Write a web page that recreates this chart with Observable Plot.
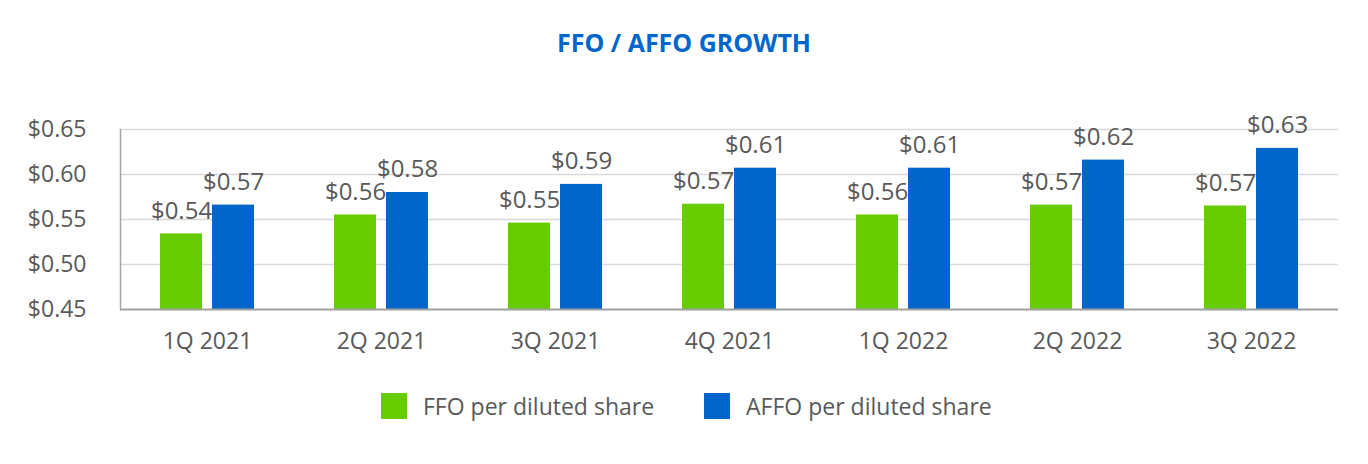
<!DOCTYPE html>
<html>
<head>
<meta charset="utf-8">
<script src="https://cdn.jsdelivr.net/npm/d3@7"></script>
<script src="https://cdn.jsdelivr.net/npm/@observablehq/plot@0.6"></script>
<style>
  body { margin: 0; background: #fff; font-family: "Open Sans", sans-serif; }
  #wrap { position: relative; width: 1368px; height: 464px; overflow: hidden; }
  #title { position: absolute; top: 26px; left: 0; width: 1368px; text-align: center;
           font-weight: 700; font-size: 25px; line-height: 32px; color: #0066CC; }
  #chart { position: absolute; top: 80px; left: 0; }
  #legend { position: absolute; top: 393px; left: 381px; height: 26px; display: flex;
            align-items: center; font-size: 23px; color: #595959; white-space: nowrap; }
  .sw { width: 26px; height: 26px; display: inline-block; }
</style>
</head>
<body>
<div id="wrap">
  <div id="title">FFO / AFFO GROWTH</div>
  <div id="chart"></div>
  <div id="legend"></div>
</div>
<script>
const quarters = ["1Q 2021", "2Q 2021", "3Q 2021", "4Q 2021", "1Q 2022", "2Q 2022", "3Q 2022"];
const ffoValues = [0.534, 0.555, 0.546, 0.567, 0.555, 0.566, 0.565];
const affoValues = [0.566, 0.580, 0.589, 0.607, 0.607, 0.616, 0.629];
const ffoLabels = ["$0.54", "$0.56", "$0.55", "$0.57", "$0.56", "$0.57", "$0.57"];
const affoLabels = ["$0.57", "$0.58", "$0.59", "$0.61", "$0.61", "$0.62", "$0.63"];
const yTicks = [0.45, 0.50, 0.55, 0.60, 0.65];
const seriesNames = ["FFO per diluted share", "AFFO per diluted share"];
const seriesColors = ["#66CC00", "#0066CC"];

const rows = quarters.map((q, i) => ({
  quarter: q, ffo: ffoValues[i], affo: affoValues[i],
  ffoLabel: ffoLabels[i], affoLabel: affoLabels[i]
}));

const chart = Plot.plot({
  width: 1368,
  height: 300,
  marginTop: 49,
  marginBottom: 71,
  marginLeft: 120,
  marginRight: 30,
  style: { fontFamily: "Open Sans", fontSize: "23px", color: "#595959", background: "#fff", overflow: "visible" },
  x: { domain: quarters, padding: 0, label: null, tickSize: 0, tickPadding: 23 },
  y: { domain: [0.45, 0.65], ticks: yTicks, tickFormat: d => "$" + d.toFixed(2), label: null, tickSize: 0, tickPadding: 34 },
  marks: [
    Plot.gridY(yTicks.slice(1), { stroke: "#d9d9d9", strokeOpacity: 1, strokeWidth: 1.5 }),
    Plot.frame({ anchor: "left", stroke: "#a6a6a6", strokeWidth: 1.5 }),
    Plot.barY(rows, { x: "quarter", y1: () => 0.45, y2: "ffo", fill: seriesColors[0], insetLeft: 40, insetRight: 92 }),
    Plot.barY(rows, { x: "quarter", y1: () => 0.45, y2: "affo", fill: seriesColors[1], insetLeft: 92, insetRight: 40 }),
    Plot.ruleY([0.45], { stroke: "#a0a0a0", strokeWidth: 2 }),
    Plot.text(rows, { x: "quarter", y: "ffo", text: "ffoLabel", dx: -26, dy: -23, fontSize: 24, fill: "#595959" }),
    Plot.text(rows, { x: "quarter", y: "affo", text: "affoLabel", dx: 26, dy: -23, fontSize: 24, fill: "#595959" })
  ]
});
document.getElementById("chart").appendChild(chart);

const legend = document.getElementById("legend");
seriesNames.forEach((name, i) => {
  const sw = document.createElement("span");
  sw.className = "sw";
  sw.style.background = seriesColors[i];
  sw.style.marginRight = "16px";
  if (i > 0) sw.style.marginLeft = "50px";
  const t = document.createElement("span");
  t.textContent = name;
  legend.appendChild(sw);
  legend.appendChild(t);
});
</script>
</body>
</html>
